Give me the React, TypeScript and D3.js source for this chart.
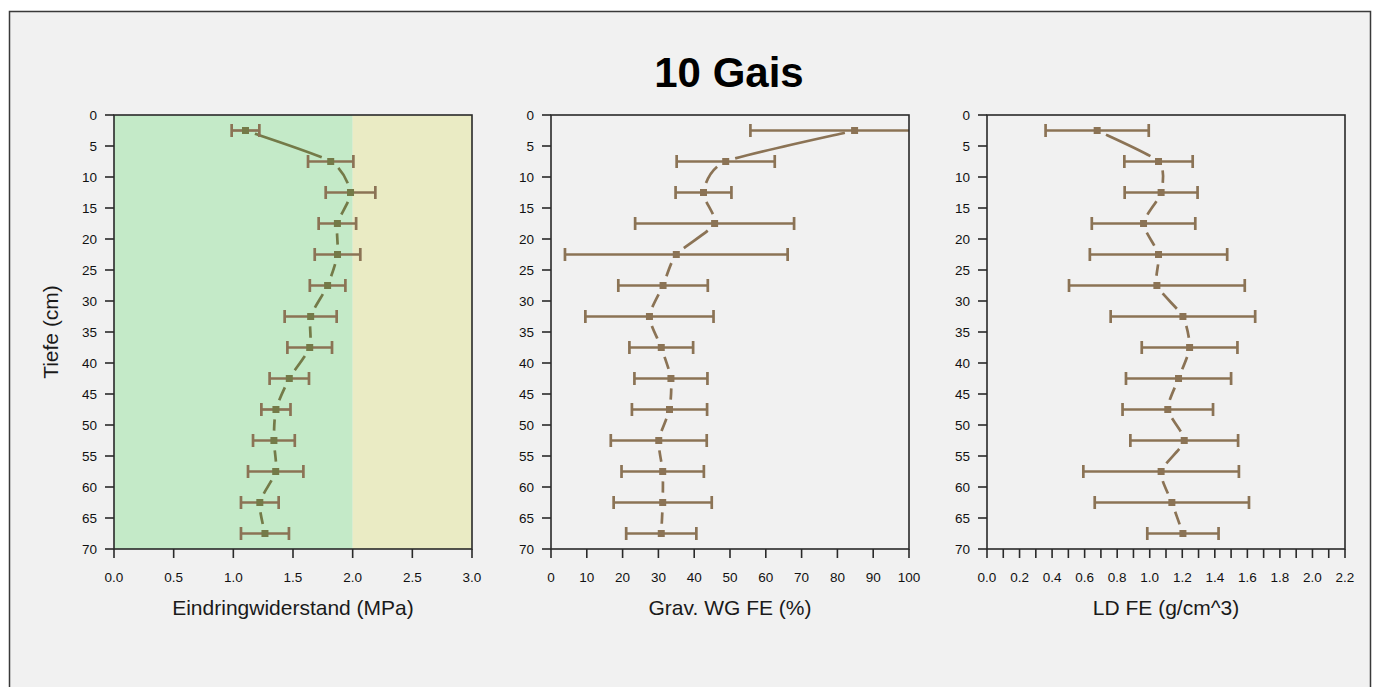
import React from "react";
import * as d3 from "d3";

// Depth of each sampled layer midpoint (cm)
const DEPTHS = [2.5, 7.5, 12.5, 17.5, 22.5, 27.5, 32.5, 37.5, 42.5, 47.5, 52.5, 57.5, 62.5, 67.5];

// Penetration resistance (MPa): mean and standard deviation
const PR_MEAN = [1.102, 1.816, 1.982, 1.872, 1.873, 1.79, 1.648, 1.64, 1.469, 1.357, 1.34, 1.355, 1.222, 1.265];
const PR_SD = [0.116, 0.19, 0.208, 0.157, 0.191, 0.149, 0.218, 0.187, 0.165, 0.122, 0.175, 0.232, 0.158, 0.201];

// Gravimetric water content (%): mean and standard deviation
const WG_MEAN = [84.8, 48.8, 42.6, 45.7, 35.0, 31.3, 27.5, 30.8, 33.5, 33.1, 30.1, 31.2, 31.2, 30.8];
const WG_SD = [29.1, 13.7, 7.8, 22.2, 31.1, 12.5, 17.9, 8.9, 10.2, 10.5, 13.4, 11.5, 13.7, 9.8];

// Bulk density (g/cm^3): mean and standard deviation
const LD_MEAN = [0.677, 1.054, 1.07, 0.962, 1.054, 1.044, 1.204, 1.245, 1.177, 1.111, 1.212, 1.07, 1.136, 1.204];
const LD_SD = [0.317, 0.21, 0.224, 0.318, 0.422, 0.54, 0.444, 0.294, 0.323, 0.278, 0.331, 0.478, 0.474, 0.219];

// Axis ticks
const DEPTH_TICKS = [0, 5, 10, 15, 20, 25, 30, 35, 40, 45, 50, 55, 60, 65, 70];
const PR_TICKS = [0, 0.5, 1, 1.5, 2, 2.5, 3];
const WG_TICKS = [0, 10, 20, 30, 40, 50, 60, 70, 80, 90, 100];
const LD_TICKS = [0, 0.1, 0.2, 0.3, 0.4, 0.5, 0.6, 0.7, 0.8, 0.9, 1, 1.1, 1.2, 1.3, 1.4, 1.5, 1.6, 1.7, 1.8, 1.9, 2, 2.1, 2.2];
const LD_LABELS = [0, 0.2, 0.4, 0.6, 0.8, 1, 1.2, 1.4, 1.6, 1.8, 2, 2.2];

// Penetration resistance zones: acceptable up to 2 MPa, critical above
const PR_ZONES = [
  { from: 0, to: 2, color: "#c4eac8" },
  { from: 2, to: 3, color: "#eaebc4" },
];

const TITLE = "10 Gais";

const FONT = "'Liberation Sans', Arial, sans-serif";
const TOP = 115;
const HEIGHT = 434;
const WIDTH = 358;
const ERR_COLOR = "#8b7355";
// Spline tangent factor (cardinal spline with some tension)
const TANGENT = 1 / 9;

type PanelProps = {
  id: string;
  left: number;
  domain: [number, number];
  ticks: number[];
  labels: number[];
  fmt: (v: number) => string;
  mean: number[];
  sd: number[];
  title: string;
  lineColor: string;
  zones?: { from: number; to: number; color: string }[];
  showYTitle?: boolean;
};

function cubicLength(p0: number[], c1: number[], c2: number[], p1: number[]) {
  let len = 0;
  let prev = p0;
  const n = 40;
  for (let k = 1; k <= n; k++) {
    const t = k / n;
    const u = 1 - t;
    const pt = [
      u * u * u * p0[0] + 3 * u * u * t * c1[0] + 3 * u * t * t * c2[0] + t * t * t * p1[0],
      u * u * u * p0[1] + 3 * u * u * t * c1[1] + 3 * u * t * t * c2[1] + t * t * t * p1[1],
    ];
    len += Math.hypot(pt[0] - prev[0], pt[1] - prev[1]);
    prev = pt;
  }
  return len;
}

function Panel(props: PanelProps) {
  const { id, left, domain, ticks, labels, fmt, mean, sd, title, lineColor, zones, showYTitle } = props;
  const x = d3.scaleLinear().domain(domain).range([left, left + WIDTH]);
  const y = d3.scaleLinear().domain([0, 70]).range([TOP, TOP + HEIGHT]);

  const pts = DEPTHS.map((d, i) => [x(mean[i]), y(d)]);
  const n = pts.length;
  const gap = 10;
  // Cardinal spline through the means, one dash per segment with gaps at the markers
  const segments = d3.range(n - 1).map((i) => {
    const p0 = pts[Math.max(i - 1, 0)];
    const p1 = pts[i];
    const p2 = pts[i + 1];
    const p3 = pts[Math.min(i + 2, n - 1)];
    const c1 = [p1[0] + (p2[0] - p0[0]) * TANGENT, p1[1] + (p2[1] - p0[1]) * TANGENT];
    const c2 = [p2[0] - (p3[0] - p1[0]) * TANGENT, p2[1] - (p3[1] - p1[1]) * TANGENT];
    const path = d3.path();
    path.moveTo(p1[0], p1[1]);
    path.bezierCurveTo(c1[0], c1[1], c2[0], c2[1], p2[0], p2[1]);
    const L = cubicLength(p1, c1, c2, p2);
    return { d: path.toString(), dash: `0 ${gap} ${Math.max(L - 2 * gap, 0)} ${L}` };
  });

  const bottom = TOP + HEIGHT;
  const cap = 6.5;

  return (
    <g>
      <defs>
        <clipPath id={`clip-${id}`}>
          <rect x={left} y={TOP} width={WIDTH} height={HEIGHT} />
        </clipPath>
      </defs>
      {zones
        ? zones.map((z, i) => (
            <rect key={i} x={x(z.from)} y={TOP} width={x(z.to) - x(z.from)} height={HEIGHT} fill={z.color} />
          ))
        : null}
      <g clipPath={`url(#clip-${id})`}>
        {segments.map((s, i) => (
          <path key={i} d={s.d} fill="none" stroke={lineColor} strokeWidth={2.7} strokeDasharray={s.dash} />
        ))}
        {DEPTHS.map((d, i) => {
          const lo = x(mean[i] - sd[i]);
          const hi = x(mean[i] + sd[i]);
          const yy = y(d);
          return (
            <g key={i} stroke={ERR_COLOR} strokeWidth={2.7} fill="none">
              <line x1={lo} x2={hi} y1={yy} y2={yy} />
              <line x1={lo} x2={lo} y1={yy - cap} y2={yy + cap} />
              <line x1={hi} x2={hi} y1={yy - cap} y2={yy + cap} />
            </g>
          );
        })}
        {pts.map((p, i) => (
          <rect key={i} x={p[0] - 3.5} y={p[1] - 3.5} width={7} height={7} fill={lineColor} />
        ))}
      </g>
      <rect x={left} y={TOP} width={WIDTH} height={HEIGHT} fill="none" stroke="#2a2a2a" strokeWidth={1.6} />
      {DEPTH_TICKS.map((t) => (
        <g key={t}>
          <line x1={left - 9} x2={left} y1={y(t)} y2={y(t)} stroke="#2a2a2a" strokeWidth={1.6} />
          <text x={left - 17} y={y(t)} dy="0.36em" textAnchor="end" fontSize={13.5} fill="#111" fontFamily={FONT}>
            {t}
          </text>
        </g>
      ))}
      {ticks.map((t) => (
        <line key={t} x1={x(t)} x2={x(t)} y1={bottom} y2={bottom + 9} stroke="#2a2a2a" strokeWidth={1.6} />
      ))}
      {labels.map((t) => (
        <text key={t} x={x(t)} y={582} textAnchor="middle" fontSize={13.5} fill="#111" fontFamily={FONT}>
          {fmt(t)}
        </text>
      ))}
      <text x={left + WIDTH / 2} y={615} textAnchor="middle" fontSize={21} fill="#1a1a1a" fontFamily={FONT}>
        {title}
      </text>
      {showYTitle ? (
        <text
          transform={`translate(58, ${TOP + HEIGHT / 2}) rotate(-90)`}
          textAnchor="middle"
          fontSize={21}
          fill="#1a1a1a"
          fontFamily={FONT}
        >
          Tiefe (cm)
        </text>
      ) : null}
    </g>
  );
}

export default function App() {
  const f1 = d3.format(".1f");
  const f0 = d3.format("d");
  return (
    <svg
      width={1378}
      height={687}
      style={{ position: "absolute", left: 0, top: 0, display: "block", background: "#ffffff" }}
    >
      <rect x={9.5} y={11.5} width={1361} height={720} fill="#f1f1f1" stroke="#3a3a3a" strokeWidth={1.5} />
      <text x={729} y={87} textAnchor="middle" fontSize={42} fontWeight="bold" fill="#000" fontFamily={FONT}>
        {TITLE}
      </text>
      <Panel
        id="pr"
        left={114}
        domain={[0, 3]}
        ticks={PR_TICKS}
        labels={PR_TICKS}
        fmt={f1}
        mean={PR_MEAN}
        sd={PR_SD}
        title="Eindringwiderstand (MPa)"
        lineColor="#747a48"
        zones={PR_ZONES}
        showYTitle
      />
      <Panel
        id="wg"
        left={551}
        domain={[0, 100]}
        ticks={WG_TICKS}
        labels={WG_TICKS}
        fmt={f0}
        mean={WG_MEAN}
        sd={WG_SD}
        title="Grav. WG FE (%)"
        lineColor={ERR_COLOR}
      />
      <Panel
        id="ld"
        left={987}
        domain={[0, 2.2]}
        ticks={LD_TICKS}
        labels={LD_LABELS}
        fmt={f1}
        mean={LD_MEAN}
        sd={LD_SD}
        title="LD FE (g/cm^3)"
        lineColor={ERR_COLOR}
      />
    </svg>
  );
}
